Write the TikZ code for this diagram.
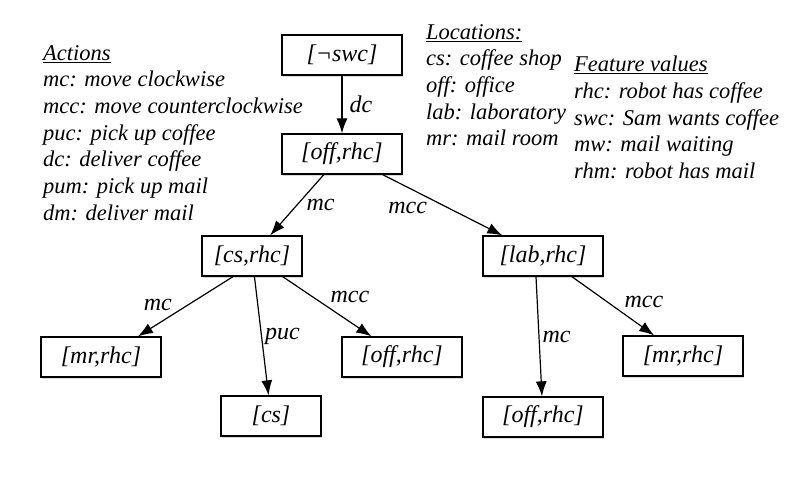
\documentclass[tikz,border=0pt]{standalone}
\usepackage{fontspec}
\setmainfont{Liberation Serif}
\usetikzlibrary{arrows.meta,shadows}

\tikzset{
  state/.style={draw, line width=1.3pt, fill=white, minimum width=120pt, minimum height=40pt,
    inner sep=2pt, font=\fontsize{24}{28}\selectfont\itshape,
    drop shadow={shadow xshift=1.2pt, shadow yshift=-1.5pt, opacity=0.3}},
  narrow/.style={minimum width=100pt},
  move/.style={-{Latex[length=15pt,width=11pt]}, line width=1.2pt},
  act/.style={font=\fontsize{24}{28}\selectfont\itshape, inner sep=3pt},
  legend/.style={align=left, anchor=north west, inner sep=0pt, font=\fontsize{22.5}{26.7}\selectfont\itshape}
}

\begin{document}
\begin{tikzpicture}[x=1pt, y=-1pt]
\useasboundingbox (0,0) rectangle (811,479);

% legend
\node[legend] (actions) at (43,45) {\underline{Actions}\\ mc: move clockwise\\ mcc: move counterclockwise\\
  puc: pick up coffee\\ dc: deliver coffee\\ pum: pick up mail\\ dm: deliver mail};
\node[legend] (locations) at (426,24) {\underline{Locations:}\\ cs: coffee shop\\ off: office\\
  lab: laboratory\\ mr: mail room};
\node[legend] (features) at (574,56) {\underline{Feature values}\\ rhc: robot has coffee\\
  swc: Sam wants coffee\\ mw: mail waiting\\ rhm: robot has mail};

% states
\node[state] (noswc) at (342,55) {[¬swc]};
\node[state] (offrhc) at (342,154) {[off,rhc]};
\node[state, narrow] (csrhc) at (252,256) {[cs,rhc]};
\node[state] (labrhc) at (543,256) {[lab,rhc]};
\node[state] (mrrhcA) at (101,357) {[mr,rhc]};
\node[state, narrow] (cs) at (271,416) {[cs]};
\node[state] (offrhcA) at (402,357) {[off,rhc]};
\node[state] (offrhcB) at (543,417) {[off,rhc]};
\node[state] (mrrhcB) at (683,356) {[mr,rhc]};

% moves
\draw[move] (noswc) -- node[act, right=4pt] {dc} (offrhc);
\draw[move] (offrhc) -- node[act, right=6pt] {mc} (csrhc);
\draw[move] (offrhc) -- node[act, pos=0.4, below left] {mcc} (labrhc);
\draw[move] ([xshift=-19pt]csrhc.south) -- node[act, left=10pt, yshift=2pt] {mc} ([xshift=37pt]mrrhcA.north);
\draw[move] (csrhc) -- node[act, right] {puc} (cs);
\draw[move] (csrhc) -- node[act, above right] {mcc} (offrhcA);
\draw[move] ([xshift=-7pt]labrhc.south) -- node[act, right] {mc} (offrhcB);
\draw[move] (labrhc) -- node[act, right=8pt, yshift=4pt] {mcc} (mrrhcB);
\end{tikzpicture}
\end{document}
